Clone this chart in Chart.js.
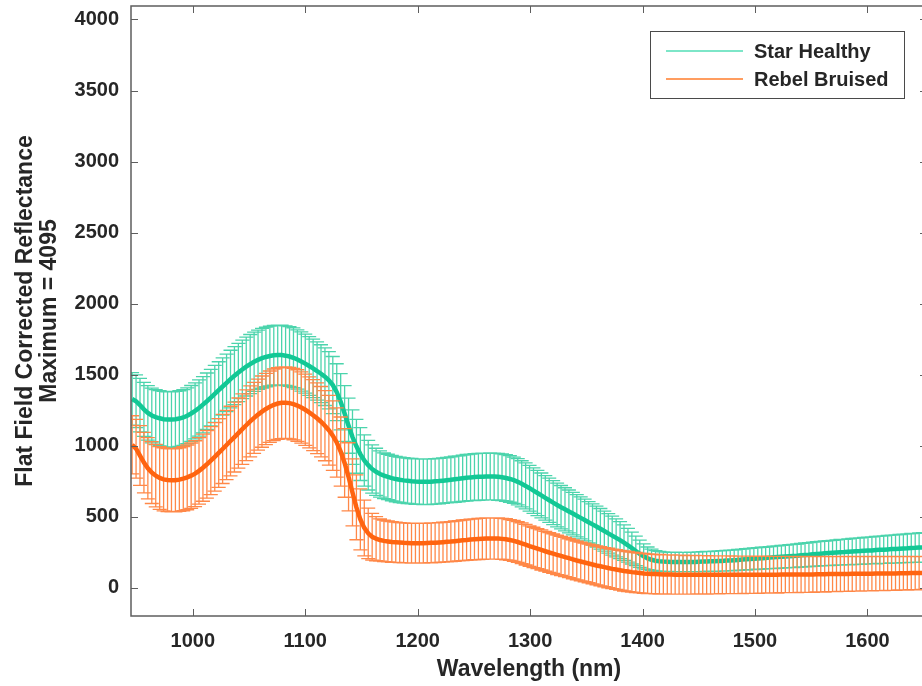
<!DOCTYPE html>
<html>
<head>
<meta charset="utf-8">
<title>Flat field corrected reflectance</title>
<script src="https://cdn.jsdelivr.net/npm/chart.js@4.4.0/dist/chart.umd.min.js"></script>
<style>
  html, body { margin: 0; padding: 0; background: #fff; overflow: hidden; }
  #wrap { position: relative; width: 930px; height: 686px; }
</style>
</head>
<body>
<div id="wrap"><canvas id="chart"></canvas></div>
<script>
// DATA
const wavelengths = [
  946, 949.5, 953, 956.5, 960, 963.5, 967, 970.5, 974, 977.5,
  981, 984.5, 988, 991.5, 995, 998.5, 1002, 1005.5, 1009, 1012.5,
  1016, 1019.5, 1023, 1026.5, 1030, 1033.5, 1037, 1040.5, 1044, 1047.5,
  1051, 1054.5, 1058, 1061.5, 1065, 1068.5, 1072, 1075.5, 1079, 1082.5,
  1086, 1089.5, 1093, 1096.5, 1100, 1103.5, 1107, 1110.5, 1114, 1117.5,
  1121, 1124.5, 1128, 1131.5, 1135, 1138.5, 1142, 1145.5, 1149, 1152.5,
  1156, 1159.5, 1163, 1166.5, 1170, 1173.5, 1177, 1180.5, 1184, 1187.5,
  1191, 1194.5, 1198, 1201.5, 1205, 1208.5, 1212, 1215.5, 1219, 1222.5,
  1226, 1229.5, 1233, 1236.5, 1240, 1243.5, 1247, 1250.5, 1254, 1257.5,
  1261, 1264.5, 1268, 1271.5, 1275, 1278.5, 1282, 1285.5, 1289, 1292.5,
  1296, 1299.5, 1303, 1306.5, 1310, 1313.5, 1317, 1320.5, 1324, 1327.5,
  1331, 1334.5, 1338, 1341.5, 1345, 1348.5, 1352, 1355.5, 1359, 1362.5,
  1366, 1369.5, 1373, 1376.5, 1380, 1383.5, 1387, 1390.5, 1394, 1397.5,
  1401, 1404.5, 1408, 1411.5, 1415, 1418.5, 1422, 1425.5, 1429, 1432.5,
  1436, 1439.5, 1443, 1446.5, 1450, 1453.5, 1457, 1460.5, 1464, 1467.5,
  1471, 1474.5, 1478, 1481.5, 1485, 1488.5, 1492, 1495.5, 1499, 1502.5,
  1506, 1509.5, 1513, 1516.5, 1520, 1523.5, 1527, 1530.5, 1534, 1537.5,
  1541, 1544.5, 1548, 1551.5, 1555, 1558.5, 1562, 1565.5, 1569, 1572.5,
  1576, 1579.5, 1583, 1586.5, 1590, 1593.5, 1597, 1600.5, 1604, 1607.5,
  1611, 1614.5, 1618, 1621.5, 1625, 1628.5, 1632, 1635.5, 1639, 1642.5,
  1646, 1649.5
];

// Star Healthy - mean and std
const starMean = [
  1328, 1312, 1285, 1255, 1230, 1212, 1200, 1192, 1186, 1183,
  1183, 1185, 1190, 1198, 1210, 1226, 1244, 1264, 1288, 1312,
  1338, 1364, 1390, 1416, 1442, 1468, 1492, 1515, 1536, 1556,
  1574, 1590, 1604, 1615, 1624, 1631, 1636, 1638, 1637, 1633,
  1627, 1618, 1606, 1592, 1577, 1560, 1543, 1525, 1506, 1485,
  1460, 1426, 1376, 1308, 1226, 1140, 1060, 995, 940, 895,
  862, 835, 815, 800, 788, 779, 771, 764, 759, 755,
  752, 749, 747, 746, 745, 745, 746, 748, 750, 753,
  756, 759, 763, 766, 770, 773, 776, 778, 780, 781,
  782, 783, 782, 780, 777, 772, 765, 756, 745, 731,
  716, 700, 683, 666, 649, 632, 615, 598, 582, 566,
  551, 536, 521, 506, 491, 476, 460, 445, 430, 414,
  398, 382, 366, 350, 334, 317, 298, 278, 258, 238,
  220, 206, 196, 189, 185, 183, 182, 181, 181, 180,
  180, 180, 181, 181, 182, 183, 184, 185, 186, 187,
  188, 190, 191, 193, 195, 197, 199, 201, 203, 205,
  207, 209, 211, 213, 215, 217, 219, 221, 223, 225,
  228, 230, 232, 235, 237, 239, 241, 243, 245, 247,
  249, 250, 252, 254, 256, 257, 259, 261, 262, 264,
  266, 267, 269, 271, 272, 274, 276, 277, 279, 280,
  282, 283
];
const starSd = [
  185, 186, 188, 190, 192, 193, 194, 195, 195, 196,
  196, 196, 196, 196, 196, 197, 197, 198, 198, 199,
  199, 200, 200, 201, 202, 203, 204, 205, 206, 207,
  208, 209, 209, 210, 210, 210, 210, 210, 210, 210,
  210, 210, 209, 209, 208, 207, 206, 205, 204, 203,
  202, 201, 200, 198, 196, 194, 192, 190, 186, 180,
  175, 170, 166, 163, 161, 160, 160, 160, 160, 160,
  160, 160, 160, 160, 160, 160, 160, 160, 160, 160,
  160, 161, 162, 162, 163, 164, 164, 165, 165, 165,
  165, 165, 165, 165, 165, 164, 164, 163, 163, 162,
  162, 161, 160, 159, 158, 157, 156, 155, 154, 153,
  152, 151, 150, 149, 148, 147, 146, 145, 144, 143,
  141, 139, 137, 134, 130, 125, 119, 112, 104, 96,
  88, 80, 75, 72, 70, 69, 68, 68, 68, 68,
  68, 68, 69, 69, 69, 70, 70, 70, 71, 71,
  72, 72, 73, 73, 74, 74, 75, 75, 76, 76,
  77, 77, 78, 79, 79, 80, 80, 81, 82, 82,
  83, 84, 84, 85, 86, 86, 87, 88, 88, 89,
  90, 90, 91, 92, 92, 93, 94, 94, 95, 96,
  96, 97, 98, 98, 99, 100, 100, 101, 102, 102,
  103, 104
];

// Rebel Bruised - mean and std
const rebelMean = [
  1005, 978, 930, 880, 840, 810, 788, 772, 762, 757,
  755, 756, 760, 767, 776, 788, 802, 822, 844, 868,
  894, 920, 948, 976, 1004, 1032, 1060, 1088, 1116, 1143,
  1170, 1195, 1218, 1239, 1258, 1274, 1287, 1296, 1301, 1302,
  1299, 1292, 1282, 1268, 1252, 1234, 1214, 1192, 1168, 1140,
  1108, 1070, 1022, 958, 878, 780, 670, 565, 480, 420,
  382, 358, 344, 335, 329, 325, 321, 319, 317, 315,
  314, 313, 313, 313, 313, 314, 315, 316, 318, 320,
  322, 324, 327, 330, 333, 335, 338, 340, 342, 344,
  345, 346, 346, 345, 343, 340, 335, 329, 321, 312,
  302, 292, 283, 274, 265, 256, 247, 239, 231, 223,
  215, 207, 199, 191, 184, 177, 170, 163, 156, 150,
  144, 138, 132, 127, 122, 117, 113, 109, 106, 103,
  100, 98, 96, 95, 94, 93, 92, 92, 91, 91,
  91, 90, 90, 90, 90, 90, 90, 90, 90, 90,
  90, 90, 90, 90, 90, 90, 90, 90, 90, 90,
  91, 91, 91, 91, 91, 92, 92, 92, 92, 92,
  93, 93, 93, 93, 94, 94, 94, 95, 95, 95,
  96, 96, 96, 97, 97, 97, 98, 98, 98, 99,
  99, 99, 100, 100, 100, 101, 101, 101, 102, 102,
  102, 103
];
const rebelSd = [
  205, 207, 210, 213, 216, 218, 220, 221, 222, 222,
  222, 223, 224, 226, 228, 230, 232, 234, 236, 238,
  240, 241, 242, 243, 244, 245, 246, 247, 248, 249,
  250, 250, 250, 251, 251, 251, 252, 252, 252, 252,
  252, 252, 252, 251, 251, 250, 250, 249, 248, 247,
  246, 245, 244, 243, 242, 240, 236, 228, 215, 196,
  178, 164, 155, 149, 146, 144, 143, 142, 141, 141,
  140, 140, 140, 140, 140, 140, 140, 140, 140, 140,
  141, 141, 142, 142, 143, 143, 144, 144, 145, 145,
  145, 145, 145, 145, 145, 145, 144, 144, 144, 143,
  143, 142, 142, 141, 141, 140, 140, 139, 139, 138,
  138, 137, 137, 136, 136, 136, 136, 137, 137, 138,
  138, 139, 139, 140, 140, 141, 141, 141, 141, 140,
  140, 140, 139, 139, 139, 138, 138, 138, 137, 137,
  137, 136, 136, 136, 135, 135, 135, 134, 134, 134,
  133, 133, 133, 132, 132, 132, 131, 131, 131, 130,
  130, 130, 129, 129, 129, 128, 128, 128, 127, 127,
  127, 126, 126, 126, 125, 125, 125, 124, 124, 124,
  123, 123, 123, 122, 122, 122, 121, 121, 121, 120,
  120, 120, 119, 119, 119, 118, 118, 118, 117, 117,
  116, 116
];

const seriesNames = ['Star Healthy', 'Rebel Bruised'];
const xTicks = [1000, 1100, 1200, 1300, 1400, 1500, 1600];
const yTicks = [0, 500, 1000, 1500, 2000, 2500, 3000, 3500, 4000];
const xTitle = 'Wavelength (nm)';
const yTitle = ['Flat Field Corrected Reflectance', 'Maximum = 4095'];

// STYLE
const FONT = "'Liberation Sans', Arial, Helvetica, sans-serif";
const TEXT = '#262626';
const AXIS = '#5e5e5e';

function points(mean) {
  return wavelengths.map((w, i) => ({ x: w, y: mean[i] }));
}

// error bars drawn under each dataset's line, through the chart scales
const errorBars = {
  id: 'errorBars',
  beforeDatasetDraw(chart, args) {
    const ds = chart.data.datasets[args.index];
    if (!ds.errors) return;
    const { ctx, chartArea: a } = chart;
    const xs = chart.scales.x, ys = chart.scales.y;
    ctx.save();
    ctx.beginPath();
    ctx.rect(a.left, a.top, a.right - a.left, a.bottom - a.top);
    ctx.clip();
    ctx.strokeStyle = ds.errorColor;
    ctx.lineWidth = 1.3;
    ctx.beginPath();
    ds.data.forEach((p, i) => {
      const px = xs.getPixelForValue(p.x);
      const top = ys.getPixelForValue(p.y + ds.errors[i]);
      const bot = ys.getPixelForValue(p.y - ds.errors[i]);
      ctx.moveTo(px, top); ctx.lineTo(px, bot);
      ctx.moveTo(px - 7, top); ctx.lineTo(px + 7, top);
      ctx.moveTo(px - 7, bot); ctx.lineTo(px + 7, bot);
    });
    ctx.stroke();
    ctx.restore();
  }
};

// MATLAB-like box, inward ticks, titles and legend
const frame = {
  id: 'frame',
  afterDraw(chart) {
    const { ctx, chartArea: a } = chart;
    const xs = chart.scales.x, ys = chart.scales.y;
    const tl = 7;
    ctx.save();
    ctx.strokeStyle = AXIS;
    ctx.lineWidth = 1.5;
    ctx.strokeRect(a.left, a.top, a.right - a.left, a.bottom - a.top);
    ctx.beginPath();
    xTicks.forEach(v => {
      const px = Math.round(xs.getPixelForValue(v)) + 0.5;
      ctx.moveTo(px, a.bottom); ctx.lineTo(px, a.bottom - tl);
      ctx.moveTo(px, a.top); ctx.lineTo(px, a.top + tl);
    });
    yTicks.forEach(v => {
      const py = Math.round(ys.getPixelForValue(v)) + 0.5;
      ctx.moveTo(a.left, py); ctx.lineTo(a.left + tl, py);
      ctx.moveTo(a.right, py); ctx.lineTo(a.right - tl, py);
    });
    ctx.lineWidth = 1;
    ctx.stroke();

    // axis titles
    ctx.fillStyle = TEXT;
    ctx.font = 'bold 23px ' + FONT;
    ctx.textAlign = 'center';
    ctx.textBaseline = 'middle';
    ctx.fillText(xTitle, 529, 670);
    ctx.save();
    ctx.translate(26, (a.top + a.bottom) / 2);
    ctx.rotate(-Math.PI / 2);
    ctx.fillText(yTitle[0], 0, 0);
    ctx.fillText(yTitle[1], 0, 24);
    ctx.restore();

    // legend
    const lx = 650.5, ly = 31.5, lw = 254, lh = 67;
    ctx.fillStyle = '#fff';
    ctx.fillRect(lx, ly, lw, lh);
    ctx.strokeStyle = '#4a4a4a';
    ctx.lineWidth = 1;
    ctx.strokeRect(lx, ly, lw, lh);
    ctx.font = 'bold 20px ' + FONT;
    ctx.textAlign = 'left';
    chart.data.datasets.forEach((ds, i) => {
      const y = 51 + i * 28;
      ctx.strokeStyle = ds.legendColor;
      ctx.lineWidth = 2;
      ctx.beginPath();
      ctx.moveTo(666, y); ctx.lineTo(743, y);
      ctx.stroke();
      ctx.fillStyle = TEXT;
      ctx.fillText(ds.label, 754, y + 1);
    });
    ctx.restore();
  }
};

const plain = v => String(v);

const ctx = document.getElementById('chart');
new Chart(ctx, {
  type: 'line',
  data: {
    datasets: [
      {
        label: seriesNames[0],
        data: points(starMean),
        errors: starSd,
        borderColor: '#12c895',
        errorColor: '#4bd4ac',
        legendColor: '#7de6c8',
        borderWidth: 4.5,
        pointRadius: 0,
        tension: 0,
        order: 1
      },
      {
        label: seriesNames[1],
        data: points(rebelMean),
        errors: rebelSd,
        borderColor: '#ff6410',
        errorColor: '#ff8848',
        legendColor: '#ff9d60',
        borderWidth: 4.5,
        pointRadius: 0,
        tension: 0,
        order: 0
      }
    ]
  },
  options: {
    responsive: true,
    maintainAspectRatio: false,
    animation: false,
    events: [],
    layout: { padding: { top: 6, right: 3, left: 0, bottom: 0 } },
    plugins: { legend: { display: false }, tooltip: { enabled: false } },
    scales: {
      x: {
        type: 'linear',
        min: 945,
        max: 1653,
        grid: { display: false, drawTicks: false },
        border: { display: false },
        afterBuildTicks: s => { s.ticks = xTicks.map(v => ({ value: v })); },
        afterFit: s => { s.height = 70; s.paddingLeft = 0; s.paddingRight = 0; },
        ticks: {
          padding: 13,
          maxRotation: 0,
          color: TEXT,
          callback: plain,
          font: { family: FONT, size: 20, weight: 'bold' }
        }
      },
      y: {
        min: -200,
        max: 4095,
        grid: { display: false, drawTicks: false },
        border: { display: false },
        afterBuildTicks: s => { s.ticks = yTicks.map(v => ({ value: v })); },
        afterFit: s => { s.width = 131; s.paddingTop = 0; s.paddingBottom = 0; },
        ticks: {
          padding: 12,
          color: TEXT,
          callback: plain,
          font: { family: FONT, size: 20, weight: 'bold' }
        }
      }
    }
  },
  plugins: [errorBars, frame]
});
</script>
</body>
</html>
